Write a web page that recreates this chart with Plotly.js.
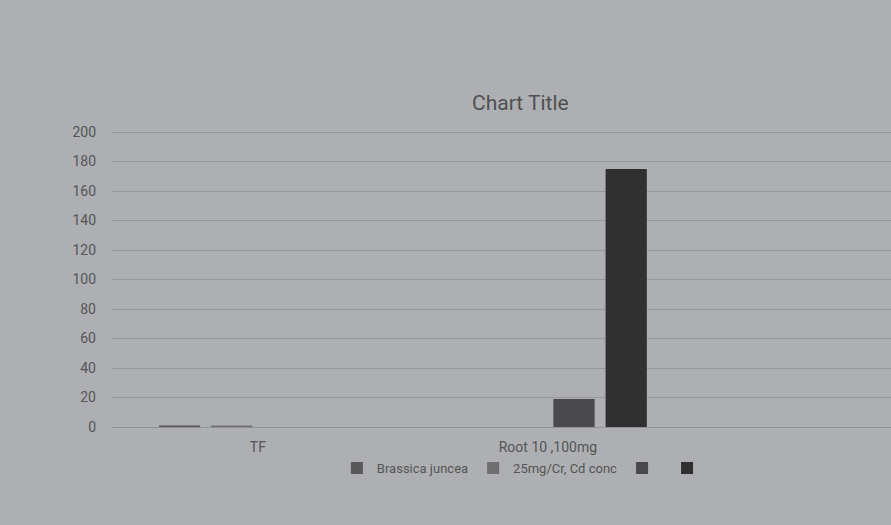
<!DOCTYPE html>
<html>
<head>
<meta charset="utf-8">
<script src="https://cdn.plot.ly/plotly-3.0.1.min.js"></script>
<style>html,body{margin:0;padding:0;background:#adafb2;}</style>
</head>
<body>
<div id="chart" style="width:891px;height:525px;"></div>
<script>
const categories = ["TF", "Root 10 ,100mg"];
const seriesNames = ["Brassica juncea", "25mg/Cr, Cd conc", "", ""];
const series1 = [1, 0];
const series2 = [1, 0];
const series3 = [0, 19];
const series4 = [0, 175];
const yTicks = [0, 20, 40, 60, 80, 100, 120, 140, 160, 180, 200];

const colors = ["#585858", "#6e6e6e", "#4a4a4c", "#303030"];
const allSeries = [series1, series2, series3, series4];

const traces = allSeries.map((vals, i) => ({
  type: "bar",
  x: categories,
  y: vals,
  name: seriesNames[i],
  marker: {color: colors[i]},
  hoverinfo: "none"
}));

const layout = {
  width: 891, height: 525,
  paper_bgcolor: "#adafb2",
  plot_bgcolor: "#adafb2",
  margin: {l: 112, r: 0, t: 131, b: 98},
  font: {family: "Roboto, 'Open Sans', sans-serif", color: "#555"},
  title: {text: "Chart Title", font: {size: 21, color: "#505050"}, x: 0.584, xanchor: "center", y: 1 - 103/525, yanchor: "middle", yref: "container"},
  barmode: "group",
  bargap: 0.28,
  bargroupgap: 0.21,
  xaxis: {
    type: "category",
    range: [-0.503, 2.183],
    showgrid: false,
    showline: false,
    ticks: "",
    ticklabelstandoff: 10,
    tickfont: {size: 14, color: "#555"}
  },
  yaxis: {
    range: [0, 200.7],
    tickvals: yTicks,
    ticktext: yTicks.map(String),
    gridcolor: "#969899",
    gridwidth: 1,
    zeroline: true,
    zerolinecolor: "#8f9192",
    zerolinewidth: 1,
    showline: false,
    ticks: "",
    ticklabelstandoff: 15,
    tickfont: {size: 14, color: "#555"}
  },
  showlegend: true,
  legend: {
    orientation: "h",
    x: 0.53, xanchor: "center",
    y: -0.139, yanchor: "middle",
    font: {size: 13, color: "#555"},
    bgcolor: "rgba(0,0,0,0)",
    itemwidth: 30,
    traceorder: "normal"
  }
};

Plotly.newPlot("chart", traces, layout, {displayModeBar: false, staticPlot: true});
</script>
</body>
</html>
